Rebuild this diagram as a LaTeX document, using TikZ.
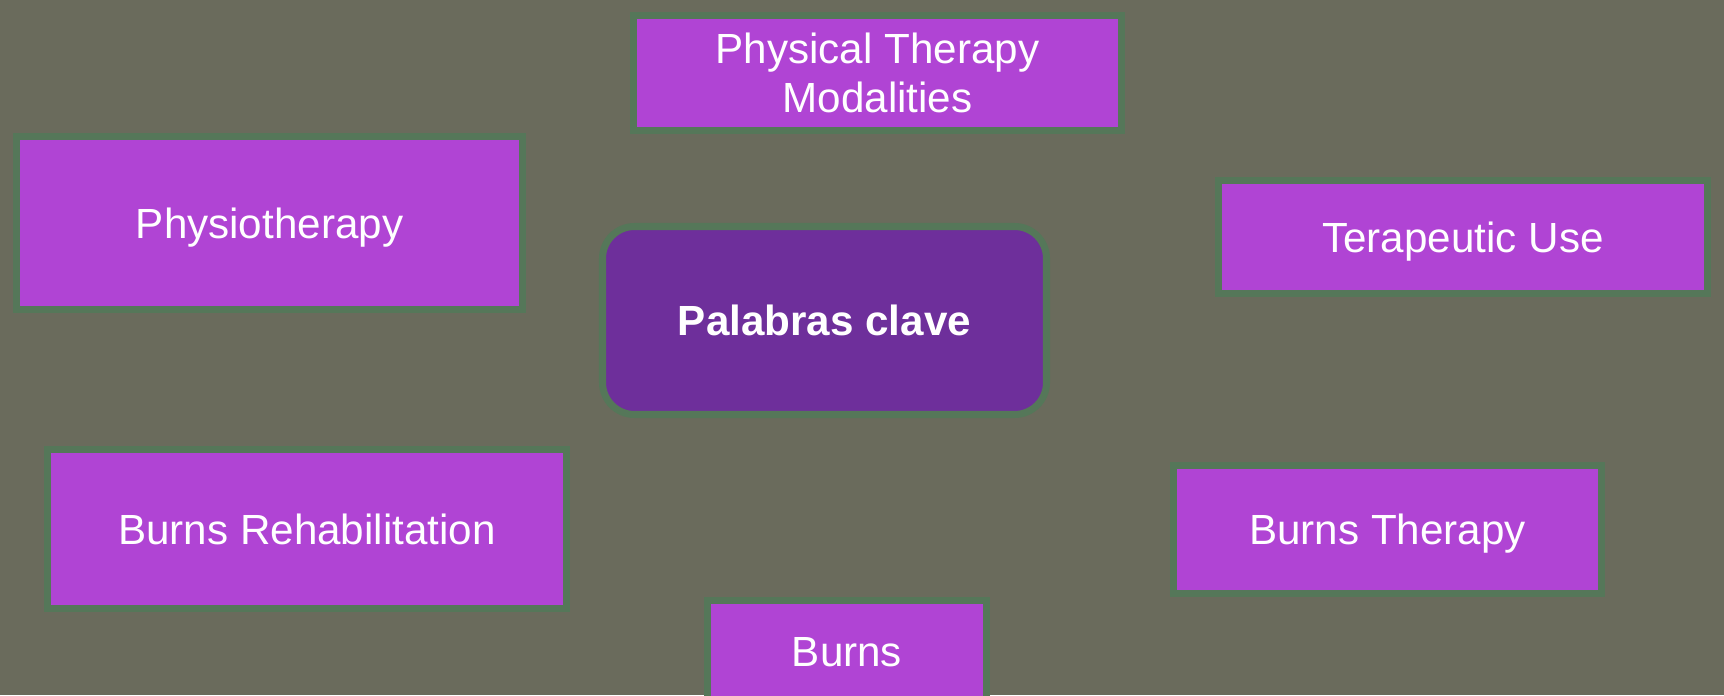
\documentclass[tikz,border=0pt]{standalone}
\usepackage{fontspec}
\setmainfont{Liberation Sans}
\definecolor{bgolive}{HTML}{6A6B5C}
\definecolor{boxgreen}{HTML}{557759}
\definecolor{boxpink}{HTML}{B044D4}
\definecolor{boxpurple}{HTML}{6E2F9B}
\begin{document}
\begin{tikzpicture}[
        kw/.style={draw=boxgreen, line width=4pt, fill=boxpink, text=white,
            align=center, font=\fontsize{24}{28}\selectfont, inner sep=0pt},
        oneline/.style={kw, text height=17.2pt, text depth=0pt},
        core/.style={oneline, fill=boxpurple, rounded corners=0.64cm, font=\fontsize{24}{28}\selectfont\bfseries}
    ]
    \useasboundingbox (0,0) rectangle (34.48,13.9);
    \fill[bgolive] (0,0) rectangle (34.48,13.9);
    \clip (0,0) rectangle (34.48,13.9);

    \node[core, minimum width=8.88cm, minimum height=3.76cm] (clave) at (16.49,7.49) {Palabras clave};

    \node[kw, minimum width=9.76cm, minimum height=2.3cm] (modal) at (17.55,12.44) {Physical Therapy\\Modalities};
    \node[oneline, minimum width=10.12cm, minimum height=3.46cm] (physio) at (5.39,9.44) {Physiotherapy};
    \node[oneline, minimum width=9.78cm, minimum height=2.26cm] (terap) at (29.26,9.16) {Terapeutic Use};
    \node[oneline, minimum width=10.38cm, minimum height=3.18cm] (rehab) at (6.14,3.32) {Burns Rehabilitation};
    \node[oneline, minimum width=8.56cm, minimum height=2.56cm] (btherapy) at (27.75,3.31) {Burns Therapy};
    \node[oneline, minimum width=5.58cm, minimum height=2.02cm] (burns) at (16.94,0.88) {Burns};
\end{tikzpicture}
\end{document}
